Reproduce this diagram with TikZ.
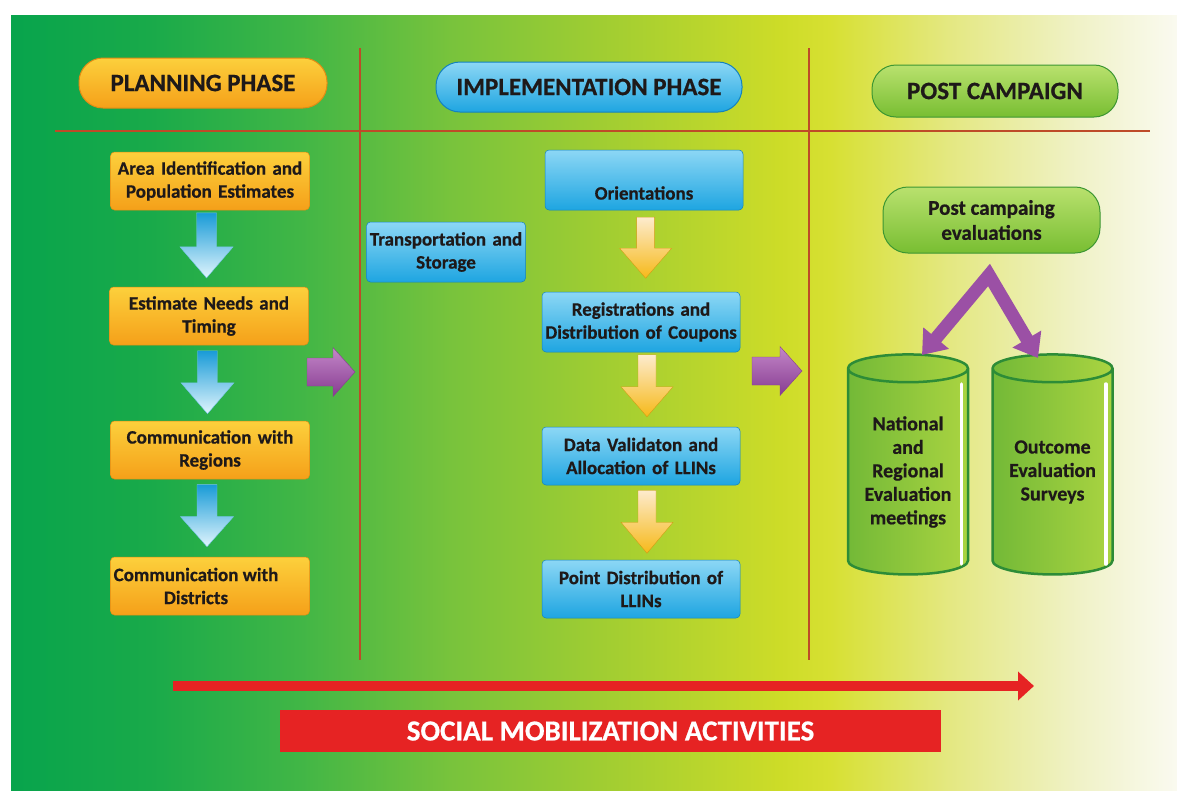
\documentclass[tikz,border=0pt]{standalone}
\usepackage{fontspec}
\setmainfont{Carlito}[BoldFeatures={FakeBold=0.6}]
\usetikzlibrary{shapes.geometric,arrows.meta,calc}
\definecolor{bga}{RGB}{8,164,76}
\definecolor{bgb}{RGB}{25,170,74}
\definecolor{bgc}{RGB}{65,182,70}
\definecolor{bgd}{RGB}{120,195,60}
\definecolor{bge}{RGB}{160,205,50}
\definecolor{bgf}{RGB}{205,220,40}
\definecolor{bgg}{RGB}{215,224,50}
\definecolor{bgh}{RGB}{228,232,130}
\definecolor{bgi}{RGB}{240,242,200}
\definecolor{bgj}{RGB}{250,250,240}
\pgfdeclarehorizontalshading{bgshade}{100bp}{color(0bp)=(bga); color(25bp)=(bga); color(30.96bp)=(bgb); color(37.39bp)=(bgc); color(43.83bp)=(bgd); color(50.26bp)=(bge); color(57.98bp)=(bgf); color(60.12bp)=(bgg); color(65.27bp)=(bgh); color(70.84bp)=(bgi); color(75bp)=(bgj); color(100bp)=(bgj)}
\definecolor{txtc}{RGB}{30,25,25}
\definecolor{ortop}{RGB}{252,208,60}
\definecolor{orbot}{RGB}{245,160,25}
\definecolor{orline}{RGB}{225,140,20}
\definecolor{bltop}{RGB}{140,215,245}
\definecolor{blbot}{RGB}{30,165,225}
\definecolor{blline}{RGB}{20,130,190}
\definecolor{grtop}{RGB}{185,225,110}
\definecolor{grbot}{RGB}{120,190,50}
\definecolor{grline}{RGB}{60,150,50}
\definecolor{putop}{RGB}{195,135,200}
\definecolor{pubot}{RGB}{135,60,145}
\definecolor{puv}{RGB}{155,80,165}
\definecolor{sepline}{RGB}{190,75,40}
\definecolor{redc}{RGB}{230,35,35}
\definecolor{barrtop}{RGB}{25,155,215}
\definecolor{barrbot}{RGB}{225,245,253}
\definecolor{oarrtop}{RGB}{253,235,205}
\definecolor{oarrbot}{RGB}{246,185,25}
\definecolor{cylleft}{RGB}{115,185,55}
\definecolor{cylright}{RGB}{170,212,65}
\definecolor{cylline}{RGB}{45,140,55}
\begin{document}
\begin{tikzpicture}[x=1pt,y=-1pt,
  txt/.style={font=\bfseries\fontsize{19}{23}\selectfont, text=txtc, align=center},
  obox/.style={txt, rectangle, rounded corners=4, minimum width=199, minimum height=58, inner sep=0, text width=197, top color=ortop, bottom color=orbot, draw=orline, line width=0.5},
  bbox/.style={txt, rectangle, rounded corners=4, minimum width=198, minimum height=58, inner sep=0, text width=196, top color=bltop, bottom color=blbot, draw=blline, line width=0.5},
  pill/.style={rectangle, rounded corners=24, minimum height=50, inner sep=0, font=\bfseries\fontsize{25}{30}\selectfont, text=txtc, line width=1},
  barrowst/.style={top color=barrtop, bottom color=barrbot, draw=barrtop!60!white, line width=0.4},
  oarrowst/.style={top color=oarrtop, bottom color=oarrbot, draw=oarrbot!85!black, line width=0.4},
  parrowst/.style={top color=putop, bottom color=pubot, draw=pubot, line width=0.4},
  pics/downarr/.style n args={5}{code={\path[#5] (-#2/2,-#1/2) -- (#2/2,-#1/2) -- (#2/2,#1/2-#4) -- (#3/2,#1/2-#4) -- (0,#1/2) -- (-#3/2,#1/2-#4) -- (-#2/2,#1/2-#4) -- cycle;}},
  pics/rightarr/.style n args={5}{code={\path[#5] (-#1/2,-#2/2) -- (#1/2-#4,-#2/2) -- (#1/2-#4,-#3/2) -- (#1/2,0) -- (#1/2-#4,#3/2) -- (#1/2-#4,#2/2) -- (-#1/2,#2/2) -- cycle;}},
  cyl/.style={txt, font=\bfseries\fontsize{20}{23.5}\selectfont, cylinder, shape border rotate=90, aspect=0.32, minimum width=120, minimum height=220, inner sep=0, left color=cylleft, right color=cylright, draw=cylline, line width=2.5},
  sep/.style={draw=sepline, line width=1.5}
]
\useasboundingbox (0,0) rectangle (1177,793);
\shade[shading=bgshade] (11,15) rectangle (1177,790);

% separators
\coordinate (h1) at (55,131);
\coordinate (h2) at (1150,131);
\coordinate (v1t) at (360,48);
\coordinate (v1b) at (360,660);
\coordinate (v2t) at (809,48);
\coordinate (v2b) at (809,660);
\draw[sep] (h1) -- (h2);
\draw[sep] (v1t) -- (v1b);
\draw[sep] (v2t) -- (v2b);

% phase headers
\node[pill, minimum width=248, top color=ortop, bottom color=orbot, draw=orline] (ph1) at (203,83) {PLANNING PHASE};
\node[pill, minimum width=306, top color=bltop, bottom color=blbot, draw=blline] (ph2) at (589,87) {IMPLEMENTATION PHASE};
\node[pill, minimum width=246, minimum height=52, top color=grtop, bottom color=grbot, draw=grline] (ph3) at (995,91) {POST CAMPAIGN};

% planning column
\node[obox] (p1) at (210,181) {Area Identification and\\Population Estimates};
\node[obox] (p2) at (209,316) {Estimate Needs and\\Timing};
\node[obox] (p3) at (210,450) {Communication with\\Regions};
\node[obox] (p4) at (210,586) {};
\node[txt] (p4t) at ($(p4.center)+(-14,0)$) {Communication with\\Districts};

\pic (a1) at ($(p1.south)!0.46!(p2.north)+(-3,0)$) {downarr={65}{20}{53}{31}{barrowst}};
\pic (a2) at ($(p2.south)!0.49!(p3.north)+(-2,0)$) {downarr={63}{20}{53}{31}{barrowst}};
\pic (a3) at ($(p3.south)!0.47!(p4.north)+(-3,0)$) {downarr={62}{20}{53}{30}{barrowst}};

% implementation column
\node[bbox, minimum width=159, text width=157, minimum height=60] (i0) at (446,252) {Transportation and\\Storage};
\node[bbox, minimum height=60] (i1) at (644,180) {};
\node[txt] (i1t) at ($(i1.center)+(0,13)$) {Orientations};
\node[bbox, minimum height=60] (i2) at (641,322) {Registrations and\\Distribution of Coupons};
\node[bbox] (i3) at (641,456) {Data Validaton and\\Allocation of LLINs};
\node[bbox] (i4) at (641,589) {Point Distribution of\\LLINs};

\pic (b1) at ($(i1.south)!0.46!(i2.north)+(3,0)$) {downarr={61}{18}{52}{30}{oarrowst}};
\pic (b2) at ($(i2.south)!0.45!(i3.north)+(6,0)$) {downarr={62}{18}{52}{30}{oarrowst}};
\pic (b3) at ($(i3.south)!0.49!(i4.north)+(6,0)$) {downarr={63}{18}{52}{31}{oarrowst}};

% phase transition arrows
\pic (t1) at (331,372) {rightarr={48}{28}{49}{22}{parrowst}};
\pic (t2) at (777,371) {rightarr={50}{28}{49}{22}{parrowst}};

% post campaign column
\node[txt, rectangle, rounded corners=25, minimum width=217, minimum height=66, inner sep=0, font=\bfseries\fontsize{21}{25}\selectfont, top color=grtop, bottom color=grbot, draw=grline, line width=1] (pe) at (991.5,220) {Post campaing\\evaluations};
\node[cyl] (c1) at (908,472) {National\\and\\Regional\\Evaluation\\meetings};
\node[cyl] (c2) at (1052.5,472) {Outcome\\Evaluation\\Surveys};
\draw[white, line width=3.5, line cap=round] ($(c1.east)+(-8,-88)$) -- ($(c1.east)+(-8,92)$);
\draw[white, line width=3.5, line cap=round] ($(c2.east)+(-8,-88)$) -- ($(c2.east)+(-8,92)$);

\coordinate (apex) at (989,275);
\coordinate (c1tip) at (922,355);
\coordinate (c2tip) at (1038,358);
\draw[puv, line width=13, line join=miter, {Triangle[length=22pt,width=32pt]}-{Triangle[length=22pt,width=32pt]}] (c1tip) -- (apex) -- (c2tip);

% social mobilization
\coordinate (sm1) at (173,686);
\coordinate (sm2) at (1034,686);
\draw[redc, line width=10, -{Triangle[length=16pt,width=28pt]}] (sm1) -- (sm2);
\node[rectangle, fill=redc, minimum width=661, minimum height=42, inner sep=0, text=white, font=\bfseries\fontsize{29}{32}\selectfont] (sma) at (610.5,731) {SOCIAL MOBILIZATION ACTIVITIES};
\end{tikzpicture}
\end{document}
